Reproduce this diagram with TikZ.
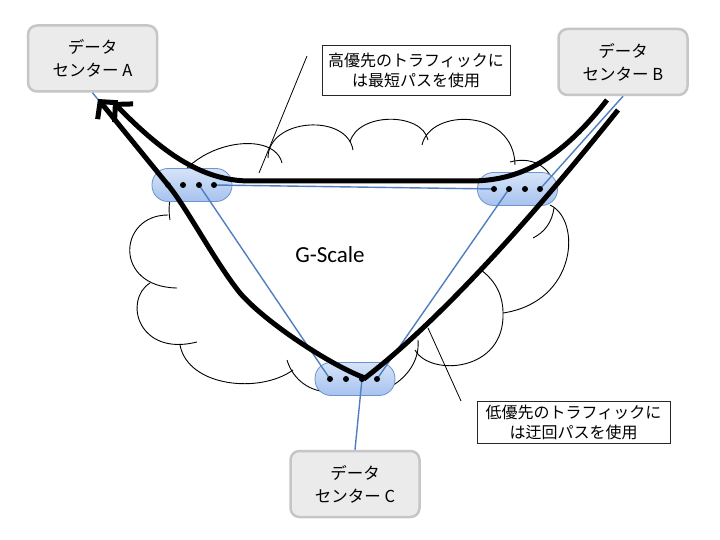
\documentclass[tikz,border=0pt]{standalone}
\usepackage{fontspec}
\setmainfont{Carlito}
\newfontfamily\jp{Noto Sans CJK JP}
\usetikzlibrary{arrows.meta}
\definecolor{dcfill}{HTML}{EBEBEB}
\definecolor{dcborder}{HTML}{C6C6C6}
\definecolor{routertop}{HTML}{D6E3F8}
\definecolor{routerbot}{HTML}{A7C3EF}
\definecolor{routerborder}{HTML}{6E93CF}
\definecolor{bluelinkc}{HTML}{4F7FC0}
\tikzset{
  dcbox/.style={draw=dcborder, line width=2.5pt, fill=dcfill, rounded corners=9pt,
    minimum width=129pt, minimum height=66pt, align=center, inner sep=0pt,
    font=\jp\fontsize{16.5}{23}\selectfont},
  callout/.style={draw=black!85, line width=0.8pt, fill=white, align=center, inner sep=0pt,
    font=\jp\fontsize{16}{20}\selectfont},
  router/.style={draw=routerborder, line width=0.8pt, top color=routertop, bottom color=routerbot,
    rounded corners=16pt, minimum width=80pt, minimum height=33pt, inner sep=0pt},
  dot/.style={circle, fill=black, inner sep=0pt, minimum size=6pt},
  bluelink/.style={draw=bluelinkc, line width=1.4pt},
  cloudline/.style={draw=black, line width=0.9pt},
  leader/.style={draw=black, line width=0.8pt},
  traffic/.style={draw=black, line width=5pt, -{Straight Barb[length=12pt,width=26pt]}}
}
\begin{document}
\begin{tikzpicture}[x=1pt,y=-1pt]
\useasboundingbox (0,0) rectangle (720,540);
\fill[white] (0,0) rectangle (720,540);

% cloud
\draw[cloudline] (170,220) .. controls (158,148) and (272,122) .. (282,163);
\draw[cloudline] (268,158) .. controls (268,118) and (347,113) .. (353,150);
\draw[cloudline] (350,142) .. controls (358,112) and (422,112) .. (428,140);
\draw[cloudline] (422,145) .. controls (430,108) and (514,108) .. (515,165);
\draw[cloudline] (510,162) .. controls (535,155) and (555,170) .. (556,195);
\draw[cloudline] (533,238) .. controls (545,232) and (552,222) .. (554,208);
\draw[cloudline] (550,205) .. controls (582,220) and (577,302) .. (503,313);
\draw[cloudline] (481,270) .. controls (497,282) and (503,297) .. (503,313);
\draw[cloudline] (503,313) .. controls (505,372) and (430,377) .. (415,350);
\draw[cloudline] (418,340) .. controls (420,362) and (405,382) .. (380,392);
\draw[cloudline] (330,392) .. controls (310,392) and (293,380) .. (287,360);
\draw[cloudline] (293,370) .. controls (260,394) and (188,387) .. (180,345);
\draw[cloudline] (150,283) .. controls (123,300) and (138,357) .. (197,342);
\draw[cloudline] (168,215) .. controls (118,215) and (113,287) .. (177,288);

\node[font=\fontsize{23}{26}\selectfont] (gs) at (330,255) {G-Scale};

% routers
\node[router] (r1) at (192,185) {};
\node[router] (r2) at (517.5,189) {};
\node[router] (r3) at (355,379) {};

% data centers
\node[dcbox] (dcA) at (92.5,58.5) {データ\\センター A};
\node[dcbox] (dcB) at (623,62) {データ\\センター B};
\node[dcbox] (dcC) at (355,484) {データ\\センター C};

% dots
\foreach \i/\x in {1/168,2/183,3/199,4/214} \coordinate (r1d\i) at (\x,185);
\foreach \i/\x in {1/494,2/509,3/525,4/540} \coordinate (r2d\i) at (\x,189);
\foreach \i/\x in {1/330,2/346,3/362,4/377} \coordinate (r3d\i) at (\x,379);

% blue links
\draw[bluelink] (dcA.south) -- (r1d1);
\draw[bluelink] (r1d4) -- (r2d1);
\draw[bluelink] (r1d3) -- (r3d1);
\draw[bluelink] (r2d2) -- (r3d4);
\draw[bluelink] (r2d4) -- (dcB.south);
\draw[bluelink] (r3d3) -- (dcC.north);

\foreach \r in {r1,r2,r3} \foreach \i in {1,2,3,4}
  \node[dot] (\r dot\i) at (\r d\i) {};

% traffic paths
\coordinate (bs1) at (607,100);
\coordinate (at1) at (113,102);
\coordinate (bs2) at (618,110);
\coordinate (vb) at (365,378);
\coordinate (at2) at (98,99);
\draw[traffic] (bs1) .. controls (560,160) and (520,181) .. (470,181) -- (250,181)
  .. controls (200,181) and (160,150) .. (at1);
\draw[traffic] (bs2) .. controls (530,220) and (440,320) .. (vb)
  .. controls (330,365) and (265,322) .. (240,293)
  .. controls (215,262) and (187,208) .. (r1d1) -- (at2);

% callouts
\node[callout, minimum width=188pt, minimum height=50pt] (c1) at (416,70) {高優先のトラフィックに\\は最短パスを使用};
\node[callout, minimum width=193pt, minimum height=42pt] (c2) at (573.5,422.5) {低優先のトラフィックに\\は迂回パスを使用};
\coordinate (l1a) at (307,56);
\coordinate (l1b) at (259,173);
\coordinate (l2a) at (461,401);
\coordinate (l2b) at (428,328);
\draw[leader] (l1a) -- (l1b);
\draw[leader] (l2a) -- (l2b);
\end{tikzpicture}
\end{document}
